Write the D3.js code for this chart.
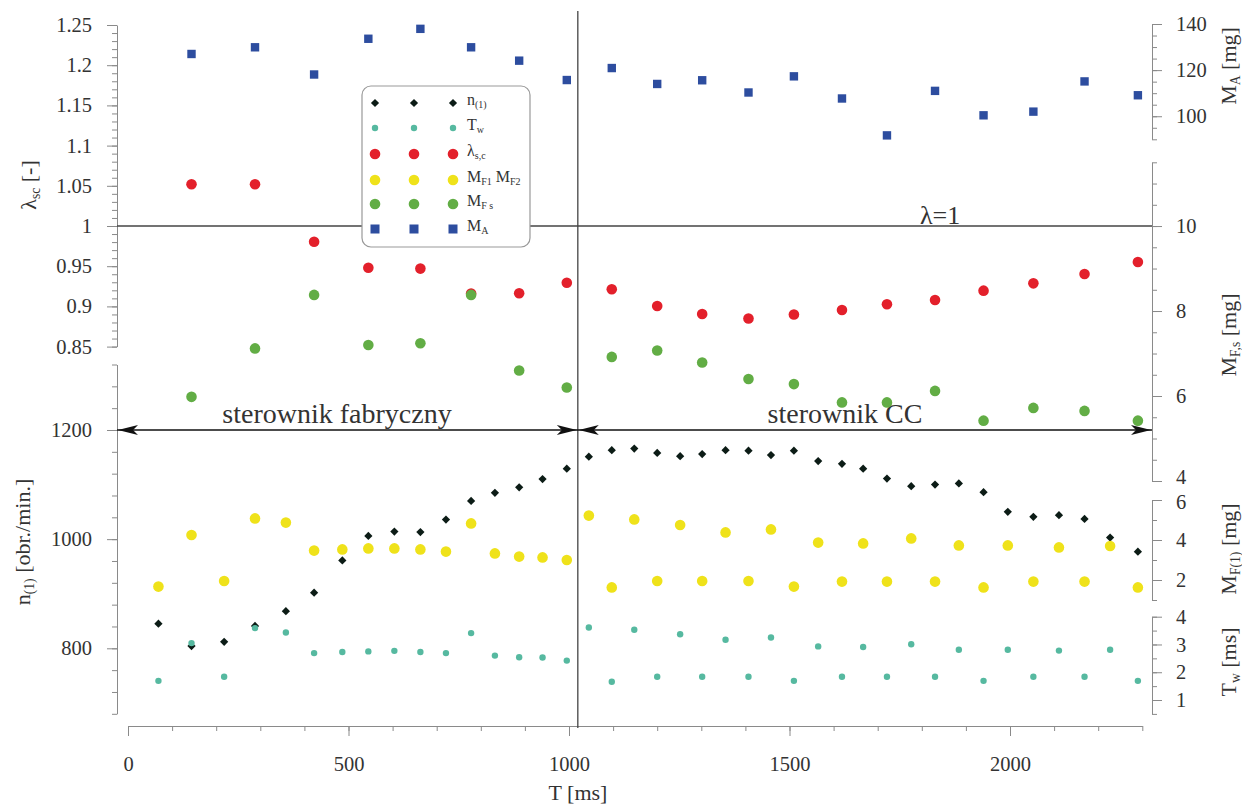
<!DOCTYPE html>
<html><head><meta charset="utf-8">
<script src="https://cdn.jsdelivr.net/npm/d3@7"></script>
<style>
body{margin:0;background:#fff}
text{font-family:"Liberation Serif","Times New Roman",serif;fill:#333}
.ax path,.ax line{stroke:#8a8a8a;stroke-width:1}
.ax text{font-family:"Liberation Serif",serif;font-size:20.5px;fill:#333}
</style>
</head><body>
<svg id="c" width="1242" height="805"></svg>
<script>
// ---- data ----
const timeAll = [69,144,218,288,358,422,486,545,604,663,721,778,832,887,940,995,1045,1097,1148,1200,1252,1302,1355,1407,1458,1510,1565,1619,1667,1721,1776,1830,1884,1940,1995,2053,2111,2169,2227,2290];
const n1 = [845,804,812,841,868,902,961,1006,1014,1013,1036,1070,1085,1095,1110,1129,1151,1163,1166,1158,1152,1156,1163,1162,1154,1162,1143,1138,1129,1111,1097,1100,1102,1086,1050,1041,1044,1037,1003,977];
const Tw = [1.69,3.05,1.84,3.59,3.43,2.69,2.73,2.75,2.77,2.73,2.69,3.41,2.60,2.54,2.53,2.42,3.61,1.66,3.53,1.84,3.37,1.84,3.17,1.84,3.25,1.69,2.93,1.84,2.91,1.84,3.01,1.84,2.81,1.69,2.81,1.84,2.78,1.84,2.81,1.69];
const MF12 = [1.67,4.25,1.95,5.08,4.87,3.47,3.53,3.58,3.58,3.53,3.42,4.83,3.33,3.17,3.13,3.0,5.22,1.63,5.03,1.95,4.75,1.95,4.38,1.95,4.53,1.67,3.87,1.92,3.83,1.92,4.08,1.92,3.73,1.63,3.73,1.92,3.63,1.92,3.7,1.63];
const timeHalf = [144,288,422,545,663,778,887,995,1097,1200,1302,1407,1510,1619,1721,1830,1940,2053,2169,2290];
const lambda = [1.0519,1.052,0.9805,0.948,0.947,0.916,0.9163,0.9295,0.9213,0.9005,0.8905,0.885,0.89,0.8955,0.9026,0.908,0.9196,0.9287,0.9403,0.9552];
const MFs = [5.98,7.12,8.38,7.2,7.24,8.38,6.6,6.2,6.92,7.07,6.79,6.4,6.28,5.85,5.85,6.12,5.42,5.72,5.65,5.42];
const MA = [127.0,129.9,118.1,133.6,137.9,129.9,124.1,115.7,120.9,114.0,115.6,110.3,117.3,107.7,91.7,111.0,100.4,102.0,115.1,109.1];
const xTicks = [0,500,1000,1500,2000];
const lamTicks = [0.85,0.9,0.95,1,1.05,1.1,1.15,1.2,1.25];
const nTicks = [800,1000,1200];
const maTicks = [100,120,140];
const mfsTicks = [4,6,8,10];
const mf1Ticks = [2,4,6];
const twTicks = [1,2,3,4];
const switchT = 1020;

// ---- scales ----
const svg = d3.select("#c");
const xL = 117, xR = 1152;
const x = d3.scaleLinear().domain([0,2300]).range([128,1142.3]);
const yLam = d3.scaleLinear().domain([0.85,1.25]).range([346.6,25]);
const yN = d3.scaleLinear().domain([680,1320]).range([713.8,364.5]);
const yMA = d3.scaleLinear().domain([90,140]).range([139.3,24]);
const yMFs = d3.scaleLinear().domain([4,11.5]).range([481,162.3]);
const yMF1 = d3.scaleLinear().domain([1,6]).range([600,500]);
const yTw = d3.scaleLinear().domain([0.5,4]).range([713.9,616.7]);

function rng(a,b,s){const r=[];for(let v=a;v<=b+1e-9;v+=s)r.push(+v.toFixed(4));return r;}

function drawAxis(gen, scale, transform, major, minorStep, fmt, pad){
  const g = svg.append("g").attr("class","ax").attr("transform",transform);
  const d = scale.domain();
  g.call(gen(scale).tickValues(rng(d[0],d[1],minorStep)).tickSize(5).tickSizeOuter(0).tickFormat(""));
  g.append("g").call(gen(scale).tickValues(major).tickSize(10).tickSizeOuter(0).tickPadding(pad).tickFormat(fmt))
    .select(".domain").remove();
  return g;
}
drawAxis(d3.axisLeft, yLam, `translate(${xL},0)`, lamTicks, 0.01, d=>String(+d.toFixed(2)), 15);
drawAxis(d3.axisLeft, yN, `translate(${xL},0)`, nTicks, 40, d=>d, 15);
drawAxis(d3.axisRight, yMA, `translate(${xR},0)`, maTicks, 5, d=>d, 14);
const gMFs = drawAxis(d3.axisRight, yMFs, `translate(${xR},0)`, mfsTicks, 0.5, d=>d, 14);
const gMF1 = drawAxis(d3.axisRight, yMF1, `translate(${xR},0)`, mf1Ticks, 1, d=>d, 14);
drawAxis(d3.axisRight, yTw, `translate(${xR},0)`, twTicks, 0.5, d=>d, 14);
drawAxis(d3.axisBottom, x, `translate(0,726)`, xTicks, 100, d=>d, 20);
// nudge the two touching labels apart slightly (as in the original)
gMFs.selectAll(".tick text").filter(d=>d===4).attr("dy","0.1em");
gMF1.selectAll(".tick text").filter(d=>d===6).attr("dy","0.42em");

// reference lines
svg.append("line").attr("x1",xL).attr("x2",xR).attr("y1",yLam(1)).attr("y2",yLam(1)).attr("stroke","#444").attr("stroke-width",1.3);
svg.append("line").attr("x1",x(switchT)).attr("x2",x(switchT)).attr("y1",11).attr("y2",728).attr("stroke","#444").attr("stroke-width",1.3);
svg.append("text").attr("x",920).attr("y",yLam(1)-2).attr("font-size",26).text("λ=1");

// arrows
const yArr = yN(1200);
svg.append("line").attr("x1",xL).attr("x2",xR).attr("y1",yArr).attr("y2",yArr).attr("stroke","#111").attr("stroke-width",1.4);
function head(tipX, dir){
  const L=20,h=5;
  svg.append("path").attr("d",`M${tipX},${yArr} L${tipX+dir*L},${yArr-h} L${tipX+dir*L*0.75},${yArr} L${tipX+dir*L},${yArr+h} Z`).attr("fill","#111");
}
head(xL+1,1); head(x(switchT)-1,-1); head(x(switchT)+1,1); head(xR-1,-1);
svg.append("text").attr("x",337).attr("y",yArr-7).attr("text-anchor","middle").attr("font-size",28).text("sterownik fabryczny");
svg.append("text").attr("x",845).attr("y",yArr-7).attr("text-anchor","middle").attr("font-size",28).text("sterownik CC");

// series
const C = {n:"#0c1c16", tw:"#56b9a0", lam:"#e3202b", mf:"#efe21a", mfs:"#62ad45", ma:"#2d4d9f"};
const diamond = d3.symbol().type(d3.symbolSquare).size(34);
svg.append("g").selectAll("path").data(timeAll.map((t,i)=>[t,n1[i]])).join("path")
  .attr("d",diamond).attr("transform",d=>`translate(${x(d[0])},${yN(d[1])}) rotate(45)`).attr("fill",C.n);
svg.append("g").selectAll("circle").data(timeAll.map((t,i)=>[t,Tw[i]])).join("circle")
  .attr("cx",d=>x(d[0])).attr("cy",d=>yTw(d[1])).attr("r",3.2).attr("fill",C.tw);
svg.append("g").selectAll("circle").data(timeHalf.map((t,i)=>[t,lambda[i]])).join("circle")
  .attr("cx",d=>x(d[0])).attr("cy",d=>yLam(d[1])).attr("r",5.3).attr("fill",C.lam);
svg.append("g").selectAll("circle").data(timeAll.map((t,i)=>[t,MF12[i]])).join("circle")
  .attr("cx",d=>x(d[0])).attr("cy",d=>yMF1(d[1])).attr("r",5.3).attr("fill",C.mf);
svg.append("g").selectAll("circle").data(timeHalf.map((t,i)=>[t,MFs[i]])).join("circle")
  .attr("cx",d=>x(d[0])).attr("cy",d=>yMFs(d[1])).attr("r",5.3).attr("fill",C.mfs);
svg.append("g").selectAll("rect").data(timeHalf.map((t,i)=>[t,MA[i]])).join("rect")
  .attr("x",d=>x(d[0])-4.2).attr("y",d=>yMA(d[1])-4.2).attr("width",8.4).attr("height",8.4).attr("fill",C.ma);

// legend
const lg = svg.append("g");
lg.append("rect").attr("x",362).attr("y",86).attr("width",168).attr("height",161).attr("rx",9)
  .attr("fill","#fff").attr("stroke","#999").attr("stroke-width",1.2);
const legItems = [
  {k:"n", parts:[["n",""],["(1)","sub"]]},
  {k:"tw", parts:[["T",""],["w","sub"]]},
  {k:"lam", parts:[["λ",""],["s,c","sub"]]},
  {k:"mf", parts:[["M",""],["F1","sub"],[" M",""],["F2","sub"]]},
  {k:"mfs", parts:[["M",""],["F s","sub"]]},
  {k:"ma", parts:[["M",""],["A","sub"]]}
];
const legY = [103,128,154,180,204,229], legX=[375,414,453];
legItems.forEach((it,i)=>{
  const cy = legY[i];
  legX.forEach(cx=>{
    if(it.k==="n") lg.append("path").attr("d",diamond).attr("transform",`translate(${cx},${cy}) rotate(45)`).attr("fill",C.n);
    else if(it.k==="tw") lg.append("circle").attr("cx",cx).attr("cy",cy).attr("r",3.2).attr("fill",C.tw);
    else if(it.k==="ma") lg.append("rect").attr("x",cx-4.5).attr("y",cy-4.5).attr("width",9).attr("height",9).attr("fill",C.ma);
    else lg.append("circle").attr("cx",cx).attr("cy",cy).attr("r",5.3).attr("fill",C[it.k]);
  });
  const t = lg.append("text").attr("x",467).attr("y",cy+5).attr("font-size",16);
  it.parts.forEach(p=>{
    if(p[1]==="sub") t.append("tspan").attr("font-size",10).attr("dy",3).text(p[0]);
    else t.append("tspan").attr("dy",t.selectAll("tspan").size()?-3:0).text(p[0]);
  });
});

// axis titles
function title(tx,ty,parts,size){
  const t = svg.append("text").attr("transform",`translate(${tx},${ty}) rotate(-90)`).attr("text-anchor","middle").attr("font-size",size);
  let sub=false;
  parts.forEach(p=>{
    if(p[1]==="sub"){ t.append("tspan").attr("font-size",size*0.62).attr("dy",4).text(p[0]); sub=true; }
    else { t.append("tspan").attr("dy",sub?-4:0).text(p[0]); sub=false; }
  });
}
title(36,185,[["λ",""],["sc","sub"],[" [-]",""]],22);
title(30,542,[["n",""],["(1)","sub"],[" [obr./min.]",""]],22);
title(1236,66,[["M",""],["A","sub"],[" [mg]",""]],22);
title(1236,335,[["M",""],["F,s","sub"],[" [mg]",""]],22);
title(1236,549,[["M",""],["F(1)","sub"],[" [mg]",""]],22);
title(1236,662,[["T",""],["w","sub"],[" [ms]",""]],22);
svg.append("text").attr("x",578).attr("y",800).attr("text-anchor","middle").attr("font-size",22).text("T [ms]");
</script>
</body></html>
